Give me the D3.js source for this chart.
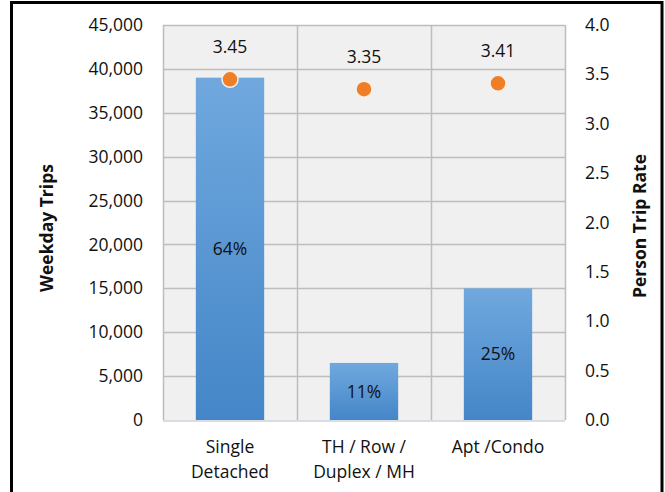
<!DOCTYPE html>
<html>
<head>
    <meta http-equiv="Content-Type" content="text/html;charset=utf8" />
    <title>Weekday trips by dwelling type</title>
    <script src="https://d3js.org/d3.v7.min.js"></script>
    <style>
        body { margin: 0; background: #fff; }
        text { font-family: "Open Sans", "Noto Sans", sans-serif; fill: #111; }
    </style>
</head>
<body>
<div id="chart"></div>
<script>
    // data
    var categories = [["Single", "Detached"], ["TH / Row /", "Duplex / MH"], ["Apt /Condo"]];
    var trips = [39000, 6500, 15000];
    var shares = ["64%", "11%", "25%"];
    var tripRates = [3.45, 3.35, 3.41];
    var leftTicks = d3.range(0, 45001, 5000);
    var rightTicks = d3.range(0, 4.01, 0.5);

    var W = 665, H = 492;
    var plot = {left: 163, right: 565, top: 25, bottom: 420};
    var fs = "17.5px";

    var svg = d3.select("#chart").append("svg").attr("width", W).attr("height", H);

    // outer frame (bottom edge runs off the picture)
    svg.append("rect").attr("x", 11.5).attr("y", 2.5).attr("width", 650.5).attr("height", 520)
        .attr("fill", "none").attr("stroke", "#000").attr("stroke-width", 3);

    var x = d3.scaleBand().domain(d3.range(categories.length))
        .range([plot.left, plot.right]).paddingInner(0).paddingOuter(0);
    var y = d3.scaleLinear().domain([0, 45000]).range([plot.bottom, plot.top]);
    var y2 = d3.scaleLinear().domain([0, 4]).range([plot.bottom, plot.top]);

    var defs = svg.append("defs");
    var grad = defs.append("linearGradient").attr("id", "barGrad")
        .attr("x1", 0).attr("y1", 0).attr("x2", 0).attr("y2", 1);
    grad.append("stop").attr("offset", "0%").attr("stop-color", "#70a8de");
    grad.append("stop").attr("offset", "100%").attr("stop-color", "#4486c8");

    // plot background
    svg.append("rect").attr("x", plot.left).attr("y", plot.top)
        .attr("width", plot.right - plot.left).attr("height", plot.bottom - plot.top)
        .attr("fill", "#f0f0f0");

    // grid
    svg.append("g").selectAll("line").data(leftTicks.slice(1)).join("line")
        .attr("x1", plot.left).attr("x2", plot.right)
        .attr("y1", function(d) { return Math.round(y(d)) + 0.5; })
        .attr("y2", function(d) { return Math.round(y(d)) + 0.5; })
        .attr("stroke", "#bdbdbd").attr("stroke-width", 1.5);
    svg.append("g").selectAll("line").data(d3.range(1, categories.length + 1)).join("line")
        .attr("x1", function(d) { return Math.round(plot.left + d * x.step()) + 0.5; })
        .attr("x2", function(d) { return Math.round(plot.left + d * x.step()) + 0.5; })
        .attr("y1", plot.top).attr("y2", plot.bottom)
        .attr("stroke", "#bdbdbd").attr("stroke-width", 1.5);
    svg.append("line").attr("x1", plot.left + 0.5).attr("x2", plot.left + 0.5)
        .attr("y1", plot.top).attr("y2", plot.bottom)
        .attr("stroke", "#bdbdbd").attr("stroke-width", 1.5);

    // bars
    var bw = x.bandwidth() * 0.51;
    svg.append("g").selectAll("rect").data(trips).join("rect")
        .attr("x", function(d, i) { return x(i) + (x.bandwidth() - bw) / 2; })
        .attr("y", function(d) { return y(d); })
        .attr("width", bw)
        .attr("height", function(d) { return y(0) - y(d); })
        .attr("fill", "url(#barGrad)");

    // base line
    svg.append("line").attr("x1", plot.left).attr("x2", plot.right)
        .attr("y1", plot.bottom + 1).attr("y2", plot.bottom + 1)
        .attr("stroke", "#d9dde3").attr("stroke-width", 2);

    // share labels inside bars
    svg.append("g").selectAll("text").data(trips).join("text")
        .attr("x", function(d, i) { return x(i) + x.bandwidth() / 2; })
        .attr("y", function(d) { return (y(d) + y(0)) / 2; })
        .attr("dy", "0.35em").attr("text-anchor", "middle")
        .style("font-size", fs)
        .text(function(d, i) { return shares[i]; });

    // trip rate points
    svg.append("g").selectAll("circle").data(tripRates).join("circle")
        .attr("cx", function(d, i) { return x(i) + x.bandwidth() / 2; })
        .attr("cy", function(d) { return y2(d); })
        .attr("r", 8)
        .attr("fill", "#f07e26").attr("stroke", "#f6f0ea").attr("stroke-width", 1.5);
    svg.append("g").selectAll("text").data(tripRates).join("text")
        .attr("x", function(d, i) { return x(i) + x.bandwidth() / 2; })
        .attr("y", function(d) { return y2(d) - 32; })
        .attr("dy", "0.35em").attr("text-anchor", "middle")
        .style("font-size", fs)
        .text(function(d) { return d.toFixed(2); });

    // left axis
    var leftAxis = d3.axisLeft(y).tickValues(leftTicks).tickSize(0).tickPadding(20)
        .tickFormat(d3.format(","));
    var gl = svg.append("g").attr("transform", "translate(" + plot.left + ",0)").call(leftAxis);
    gl.select(".domain").remove();
    gl.selectAll("text").style("font-size", fs).style("font-family", null).attr("fill", "#111");

    // right axis
    var rightAxis = d3.axisRight(y2).tickValues(rightTicks).tickSize(0).tickPadding(20)
        .tickFormat(d3.format(".1f"));
    var gr = svg.append("g").attr("transform", "translate(" + plot.right + ",0)").call(rightAxis);
    gr.select(".domain").remove();
    gr.selectAll("text").style("font-size", fs).style("font-family", null).attr("fill", "#111");

    // category labels
    var cat = svg.append("g").selectAll("text").data(categories).join("text")
        .attr("x", function(d, i) { return x(i) + x.bandwidth() / 2; })
        .attr("y", 453)
        .attr("text-anchor", "middle")
        .style("font-size", fs);
    cat.selectAll("tspan").data(function(d) { return d; }).join("tspan")
        .attr("x", function() { return d3.select(this.parentNode).attr("x"); })
        .attr("dy", function(d, i) { return i === 0 ? 0 : 25; })
        .text(function(d) { return d; });

    // axis titles
    svg.append("text").attr("transform", "translate(53,228) rotate(-90)")
        .attr("text-anchor", "middle").style("font-size", fs).style("font-weight", "bold")
        .text("Weekday Trips");
    svg.append("text").attr("transform", "translate(646,226) rotate(-90)")
        .attr("text-anchor", "middle").style("font-size", fs).style("font-weight", "bold")
        .text("Person Trip Rate");
</script>
</body>
</html>
